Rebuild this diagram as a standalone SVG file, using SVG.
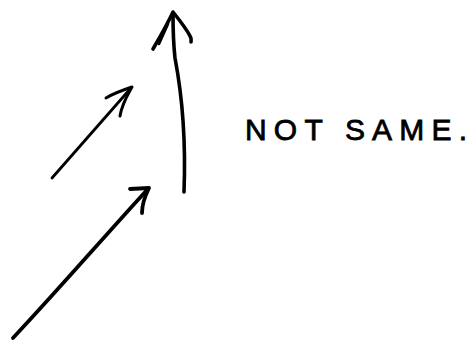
<svg xmlns="http://www.w3.org/2000/svg" width="474" height="349" viewBox="0 0 474 349">
<style>
.stroke{fill:none;stroke:#000;stroke-linecap:round;stroke-linejoin:round}
.lbl{font-family:"Liberation Sans",Arial,sans-serif;font-size:30px;fill:#000;stroke:#000;stroke-width:0.8}
</style>
<rect width="474" height="349" fill="#fff"/>
<g id="arrows">
<g id="arrow-small">
<path class="stroke" stroke-width="2.8" d="M52,178 C78,148 105,118 131,88"/>
<path class="stroke" stroke-width="3" d="M106,98 C114,93 123,90 132,87 C127,96 122,104 120,116"/>
</g>
<g id="arrow-large">
<path class="stroke" stroke-width="3.8" d="M13,338 C58,290 103,238 147,190"/>
<path class="stroke" stroke-width="3.8" d="M130,189 L149,188 C145,196 142,204 142,213"/>
</g>
<g id="arrow-vertical">
<path class="stroke" stroke-width="3.6" d="M184,192 C186,140 183,100 175,58 C173,40 173,25 173,14"/>
<path class="stroke" stroke-width="3.6" d="M153,49 C160,37 167,25 173,12 C181,22 187,30 190,36 C192,39 191,41 191,42"/>
<path class="stroke" stroke-width="2.6" d="M159,44 L168,24"/>
</g>
</g>
<g id="label">
<text class="lbl" x="245" y="140" textLength="222" lengthAdjust="spacing">NOT SAME.</text>
</g>
</svg>
